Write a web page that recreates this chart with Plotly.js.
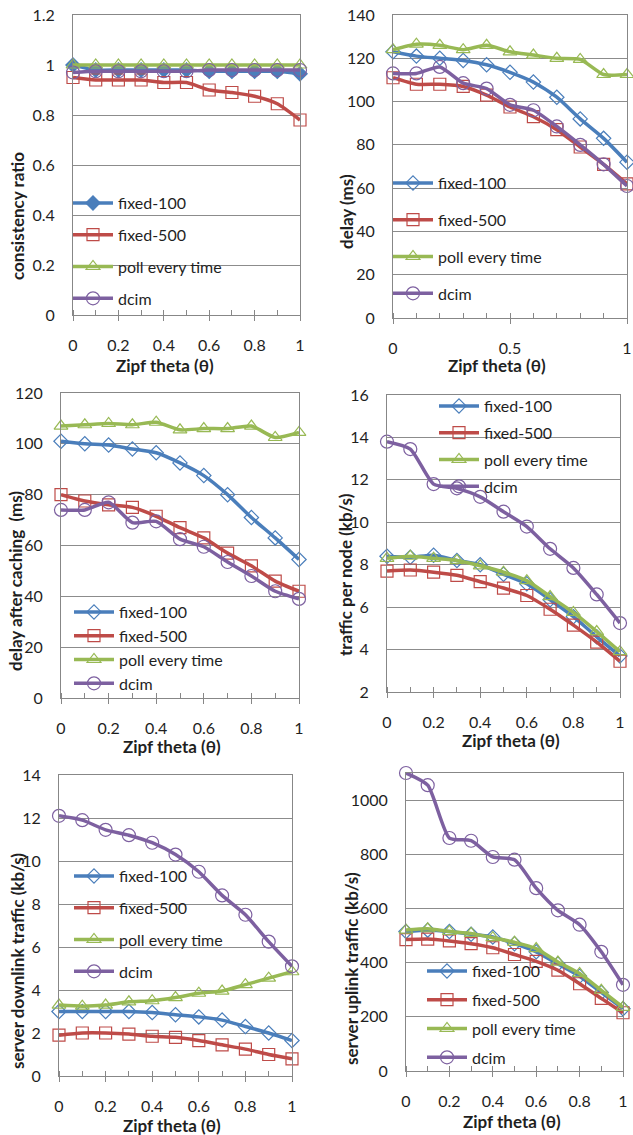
<!DOCTYPE html>
<html><head><meta charset="utf-8">
<script src="https://cdn.plot.ly/plotly-3.0.1.min.js"></script>
<style>html,body{margin:0;padding:0;background:#fff}#chart{width:633px;height:1135px}</style>
</head><body><div id="chart"></div>
<script>
// ---- data ----
const theta = [0, 0.1, 0.2, 0.3, 0.4, 0.5, 0.6, 0.7, 0.8, 0.9, 1];
const seriesNames = ['fixed-100', 'fixed-500', 'poll every time', 'dcim'];
const xTitle = 'Zipf theta (\u03b8)';

// consistency ratio
const cr_fixed100 = [1.0, 0.98, 0.98, 0.98, 0.98, 0.98, 0.975, 0.975, 0.975, 0.975, 0.965];
const cr_fixed500 = [0.95, 0.94, 0.94, 0.94, 0.93, 0.93, 0.90, 0.89, 0.875, 0.845, 0.78];
const cr_poll     = [1, 1, 1, 1, 1, 1, 1, 1, 1, 1, 1];
const cr_dcim     = [0.97, 0.975, 0.975, 0.975, 0.975, 0.975, 0.98, 0.98, 0.98, 0.98, 0.98];

// delay (ms)
const d_fixed100 = [123, 121, 120, 119, 117, 113.5, 109, 102, 92, 83, 72];
const d_fixed500 = [111, 108, 108, 107, 103, 97.5, 93, 87, 79, 71, 62];
const d_poll     = [124, 126.5, 126, 124, 126, 123, 121.5, 120, 119.5, 112.5, 112.5];
const d_dcim     = [113, 113, 116, 108.5, 106, 98.5, 96, 88.5, 80, 71, 61];

// delay after caching (ms)
const c_fixed100 = [101, 100, 99.5, 98, 96.5, 92.5, 87.5, 80, 71, 63, 54.5];
const c_fixed500 = [80, 77.5, 76, 75, 71.5, 67, 63, 57, 52, 46, 42];
const c_poll     = [107, 107.5, 108, 107.5, 108.5, 105.5, 106, 106, 107, 102.5, 104.5];
const c_dcim     = [74, 74, 77, 69, 69.5, 62.5, 59.5, 53.5, 48, 42, 39];

// traffic per node (kb/s)
const t_fixed100 = [8.4, 8.35, 8.45, 8.2, 8.0, 7.55, 7.1, 6.35, 5.55, 4.6, 3.7];
const t_fixed500 = [7.7, 7.75, 7.65, 7.5, 7.2, 6.9, 6.55, 5.9, 5.15, 4.35, 3.45];
const t_poll     = [8.3, 8.4, 8.3, 8.2, 7.95, 7.65, 7.25, 6.5, 5.75, 4.85, 3.9];
const t_dcim     = [13.8, 13.45, 11.8, 11.6, 11.2, 10.5, 9.8, 8.75, 7.85, 6.6, 5.25];

// server downlink traffic (kb/s)
const sd_fixed100 = [3.0, 3.0, 3.0, 3.0, 2.95, 2.85, 2.75, 2.6, 2.3, 2.0, 1.65];
const sd_fixed500 = [1.9, 2.0, 2.0, 1.95, 1.85, 1.8, 1.65, 1.45, 1.25, 1.0, 0.8];
const sd_poll     = [3.3, 3.25, 3.3, 3.45, 3.5, 3.65, 3.85, 3.95, 4.25, 4.55, 4.85];
const sd_dcim     = [12.1, 11.9, 11.45, 11.2, 10.85, 10.3, 9.5, 8.4, 7.5, 6.25, 5.1];

// server uplink traffic (kb/s)
const su_fixed100 = [515, 520, 515, 505, 495, 470, 440, 395, 350, 290, 230];
const su_fixed500 = [485, 487, 480, 470, 455, 430, 405, 372, 322, 268, 215];
const su_poll     = [520, 525, 515, 508, 492, 475, 452, 402, 360, 298, 235];
const su_dcim     = [1100, 1055, 860, 850, 790, 780, 675, 593, 540, 440, 318];

// ---- styling / layout ----
const W = 633, H = 1135;
const FONT = 'Lato, "Open Sans", sans-serif';
const TXT = '#1f1f1f';
const COLORS = ['#4A7EBB', '#BE4B48', '#98B954', '#7D60A0'];
const SYMBOLS = ['diamond-open', 'square-open', 'triangle-up-open', 'circle-open'];
const SIZES = [11, 12, 12, 13];

const panels = [
  {ytitle: 'consistency ratio', series: [cr_fixed100, cr_fixed500, cr_poll, cr_dcim],
   box: [73, 300, 15, 315], yr: [0, 1.2], ydt: 0.2, xdt: 0.2, filledDiamond: true,
   leg: [68, 186, 8], yt: [17, 216], xt: [165, 365]},
  {ytitle: 'delay (ms)', series: [d_fixed100, d_fixed500, d_poll, d_dcim],
   box: [393, 627, 15, 318], yr: [0, 140], ydt: 20, xdt: 0.5,
   leg: [388, 166, 13], yt: [347, 212], xt: [497, 365]},
  {ytitle: 'delay after caching  (ms)', series: [c_fixed100, c_fixed500, c_poll, c_dcim],
   box: [61, 299, 393, 698], yr: [0, 120], ydt: 20, xdt: 0.2,
   leg: [69, 595, 0], yt: [15, 581], xt: [172, 746]},
  {ytitle: 'traffic per node (kb/s)', series: [t_fixed100, t_fixed500, t_poll, t_dcim],
   box: [387, 620, 395, 692], yr: [2, 16], ydt: 2, xdt: 0.2,
   leg: [434, 389, 3], yt: [345, 575], xt: [511, 741]},
  {ytitle: 'server downlink traffic (kb/s)', series: [sd_fixed100, sd_fixed500, sd_poll, sd_dcim],
   box: [59, 292, 775, 1076], yr: [0, 14], ydt: 2, xdt: 0.2,
   leg: [69, 859, 8], yt: [17, 961], xt: [172, 1125]},
  {ytitle: 'server uplink traffic (kb/s)', series: [su_fixed100, su_fixed500, su_poll, su_dcim],
   box: [406, 623, 773, 1071], yr: [0, 1100], ydt: 200, xdt: 0.2,
   leg: [422, 954, 5], yt: [351, 968], xt: [512, 1121]}
];

const data = [];
const layout = {
  width: W, height: H,
  margin: {l: 0, r: 0, t: 0, b: 0},
  paper_bgcolor: '#fff', plot_bgcolor: '#fff',
  font: {family: FONT, color: TXT, size: 16},
  showlegend: true,
  annotations: []
};

panels.forEach((p, i) => {
  const n = i + 1;
  const xa = n === 1 ? 'x' : 'x' + n;
  const ya = n === 1 ? 'y' : 'y' + n;
  const legId = n === 1 ? 'legend' : 'legend' + n;
  p.series.forEach((vals, j) => {
    const sym = (j === 0 && p.filledDiamond) ? 'diamond' : SYMBOLS[j];
    data.push({
      type: 'scatter', mode: 'lines+markers',
      x: theta, y: vals, name: seriesNames[j],
      xaxis: xa, yaxis: ya, legend: legId, legendgroup: 'p' + n + 's' + j,
      line: {color: COLORS[j], width: 3.5, shape: 'spline', smoothing: 0.6},
      marker: {symbol: sym, size: SIZES[j], color: COLORS[j], line: {color: COLORS[j], width: 1.2}},
      cliponaxis: false
    });
  });
  const [l, r, t, b] = p.box;
  layout['xaxis' + (n === 1 ? '' : n)] = {
    domain: [l / W, r / W], anchor: ya, range: [0, 1], tick0: 0, dtick: p.xdt,
    showgrid: false, zeroline: false, showline: true, mirror: true,
    linecolor: '#878787', linewidth: 1,
    ticks: 'outside', ticklen: 5, tickcolor: '#878787',
    minor: {dtick: 0.1, tick0: 0, ticks: 'inside', ticklen: 5, tickcolor: '#878787', showgrid: false},
    tickfont: {size: 16, color: TXT, family: FONT}, ticklabelstandoff: 11,
    fixedrange: true
  };
  layout['yaxis' + (n === 1 ? '' : n)] = {
    domain: [1 - b / H, 1 - t / H], anchor: xa, range: p.yr, tick0: p.yr[0], dtick: p.ydt,
    showgrid: true, gridcolor: '#8c8c8c', gridwidth: 1, zeroline: false,
    showline: true, mirror: true, linecolor: '#878787', linewidth: 1,
    ticks: '', tickfont: {size: 16, color: TXT, family: FONT}, ticklabelstandoff: 14,
    fixedrange: true
  };
  layout[legId] = {
    x: p.leg[0] / W, y: 1 - p.leg[1] / H, xanchor: 'left', yanchor: 'top',
    bgcolor: 'rgba(0,0,0,0)', borderwidth: 0,
    font: {size: 16, color: TXT, family: FONT},
    itemwidth: 40, tracegroupgap: p.leg[2], itemclick: false, itemdoubleclick: false
  };
  layout.annotations.push({
    xref: 'paper', yref: 'paper', x: p.yt[0] / W, y: 1 - p.yt[1] / H,
    xanchor: 'center', yanchor: 'middle', showarrow: false, textangle: -90,
    text: p.ytitle, font: {size: 17, weight: 'bold', color: TXT, family: FONT}
  });
  layout.annotations.push({
    xref: 'paper', yref: 'paper', x: p.xt[0] / W, y: 1 - p.xt[1] / H,
    xanchor: 'center', yanchor: 'middle', showarrow: false,
    text: xTitle, font: {size: 17, weight: 'bold', color: TXT, family: FONT}
  });
});

Plotly.newPlot('chart', data, layout, {displayModeBar: false, staticPlot: true});
</script>
</body></html>
